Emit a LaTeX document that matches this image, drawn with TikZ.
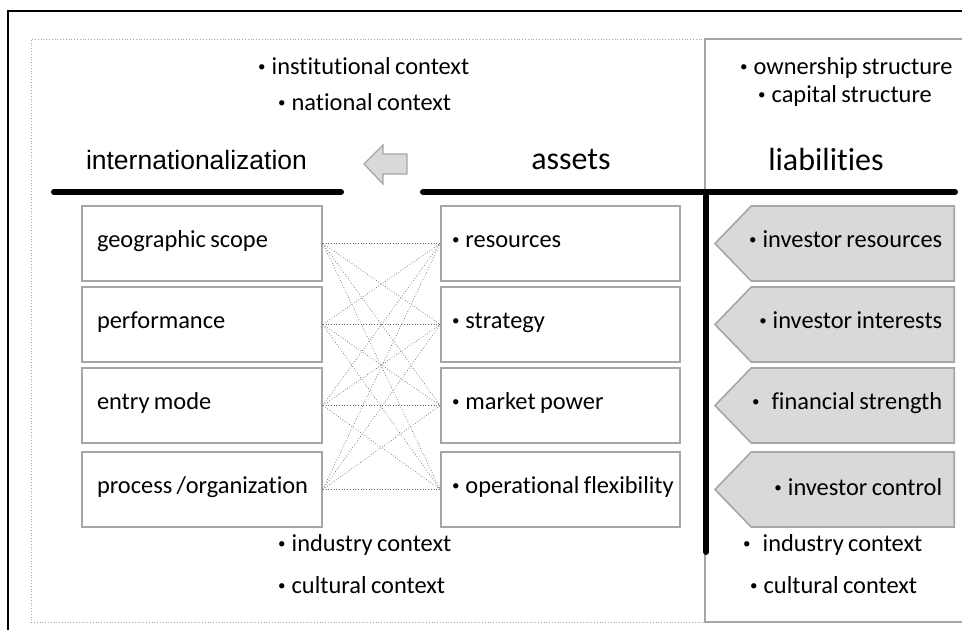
\documentclass[tikz,border=0pt]{standalone}
\usepackage{fontspec}
\setmainfont{Carlito}[Ligatures=NoCommon, WordSpace=0.8]
\newfontfamily\arialfont{Liberation Sans}
\usetikzlibrary{shapes.symbols}
\definecolor{boxgray}{HTML}{A6A6A6}
\definecolor{fillgray}{HTML}{D9D9D9}
\newcommand{\bul}{{\fontsize{15}{15}\selectfont\raisebox{3pt}{•}}\hspace{6pt}}
\newcommand{\leftin}[2]{\makebox[#1][l]{#2}}
\newcommand{\rightin}[1]{\makebox[179pt][r]{#1}}
\begin{document}
\begin{tikzpicture}[x=1pt, y=-1pt,
    txt/.style={font=\fontsize{24.4}{28}\selectfont, inner sep=0pt},
    intbox/.style={txt, draw=boxgray, line width=1.6pt, minimum width=240, minimum height=75,
        inner xsep=15, text height=16, text depth=8},
    assetbox/.style={intbox, minimum width=239, inner xsep=11},
    liabbox/.style={txt, signal, signal to=west, signal pointer angle=92, draw=boxgray, fill=fillgray,
        line width=1.6pt, minimum height=75, inner xsep=12, text height=16, text depth=8, anchor=east},
    heavy/.style={line width=6pt, line cap=round}]
        \useasboundingbox (0,0) rectangle (962,630);

        % Frame
        \draw[line width=2pt] (8,630) -- (8,10.5) -- (962,10.5);
        \draw[boxgray, dotted, line width=0.8pt] (705,39) -- (31,39) -- (31,622) -- (705,622);
        \draw[boxgray, line width=1.2pt] (962,39) -- (705,39) -- (705,622) -- (962,622);

        % Context (top)
        \node[txt, anchor=base west] (inst) at (258,74) {\bul institutional context};
        \node[txt, anchor=base west] (nat) at (278,110) {\bul national context};
        \node[txt, anchor=base west] (own) at (740,74) {\bul ownership structure};
        \node[txt, anchor=base west] (cap) at (758,102) {\bul capital structure};

        % Headings
        \node[font=\arialfont\fontsize{26.5}{30}\selectfont, inner sep=0pt, anchor=base] (intl) at (196.5,169) {internationalization};
        \node[font=\fontsize{32}{36}\selectfont, inner sep=0pt, anchor=base] (assets) at (571,169) {assets};
        \node[font=\fontsize{32}{36}\selectfont, inner sep=0pt, anchor=base] (liab) at (826,170) {liabilities};

        % Arrow
        \filldraw[fill=fillgray, draw=boxgray, line width=1.2pt] (407,154) -- (383,154) -- (383,145) -- (364,164)
            -- (383,184) -- (383,174) -- (407,174) -- cycle;

        % T-lines
        \draw[heavy] (54,192) -- (341,192);
        \draw[heavy] (423,192) -- (955,192);
        \draw[heavy] (706,192) -- (706,552);

        % Internationalization
        \node[intbox] (geo) at (202,243.5) {\leftin{210pt}{geographic scope}};
        \node[intbox] (perf) at (202,324.5) {\leftin{210pt}{performance}};
        \node[intbox] (entry) at (202,405.5) {\leftin{210pt}{entry mode}};
        \node[intbox] (proc) at (202,489.5) {\leftin{210pt}{process /organization}};

        % Assets
        \node[assetbox] (res) at (560.5,243.5) {\leftin{217pt}{\bul resources}};
        \node[assetbox] (strat) at (560.5,324.5) {\leftin{217pt}{\bul strategy}};
        \node[assetbox] (mkt) at (560.5,405.5) {\leftin{217pt}{\bul market power}};
        \node[assetbox] (flex) at (560.5,489.5) {\leftin{217pt}{\bul operational flexibility}};

        % Liabilities
        \node[liabbox] (ires) at (955,243.5) {\rightin{\bul investor resources}};
        \node[liabbox] (iint) at (955,324.5) {\rightin{\bul investor interests}};
        \node[liabbox] (fin) at (955,405.5) {\rightin{\bul\hspace{6pt}financial strength}};
        \node[liabbox, text height=18, text depth=6] (ictl) at (955,489.5) {\rightin{\bul investor control}};

        % Links
        \foreach \a in {geo,perf,entry,proc}
            \foreach \b in {res,strat,mkt,flex}
                \draw[black!60, dotted, line width=0.7pt] (\a.east) -- (\b.west);

        % Context (bottom)
        \node[txt, anchor=base west] (ind) at (278,551) {\bul industry context};
        \node[txt, anchor=base west] (cult) at (278,593) {\bul cultural context};
        \node[txt, anchor=base west] (ind2) at (743,551) {\bul\hspace{6pt}industry context};
        \node[txt, anchor=base west] (cult2) at (750,593) {\bul cultural context};
\end{tikzpicture}
\end{document}
